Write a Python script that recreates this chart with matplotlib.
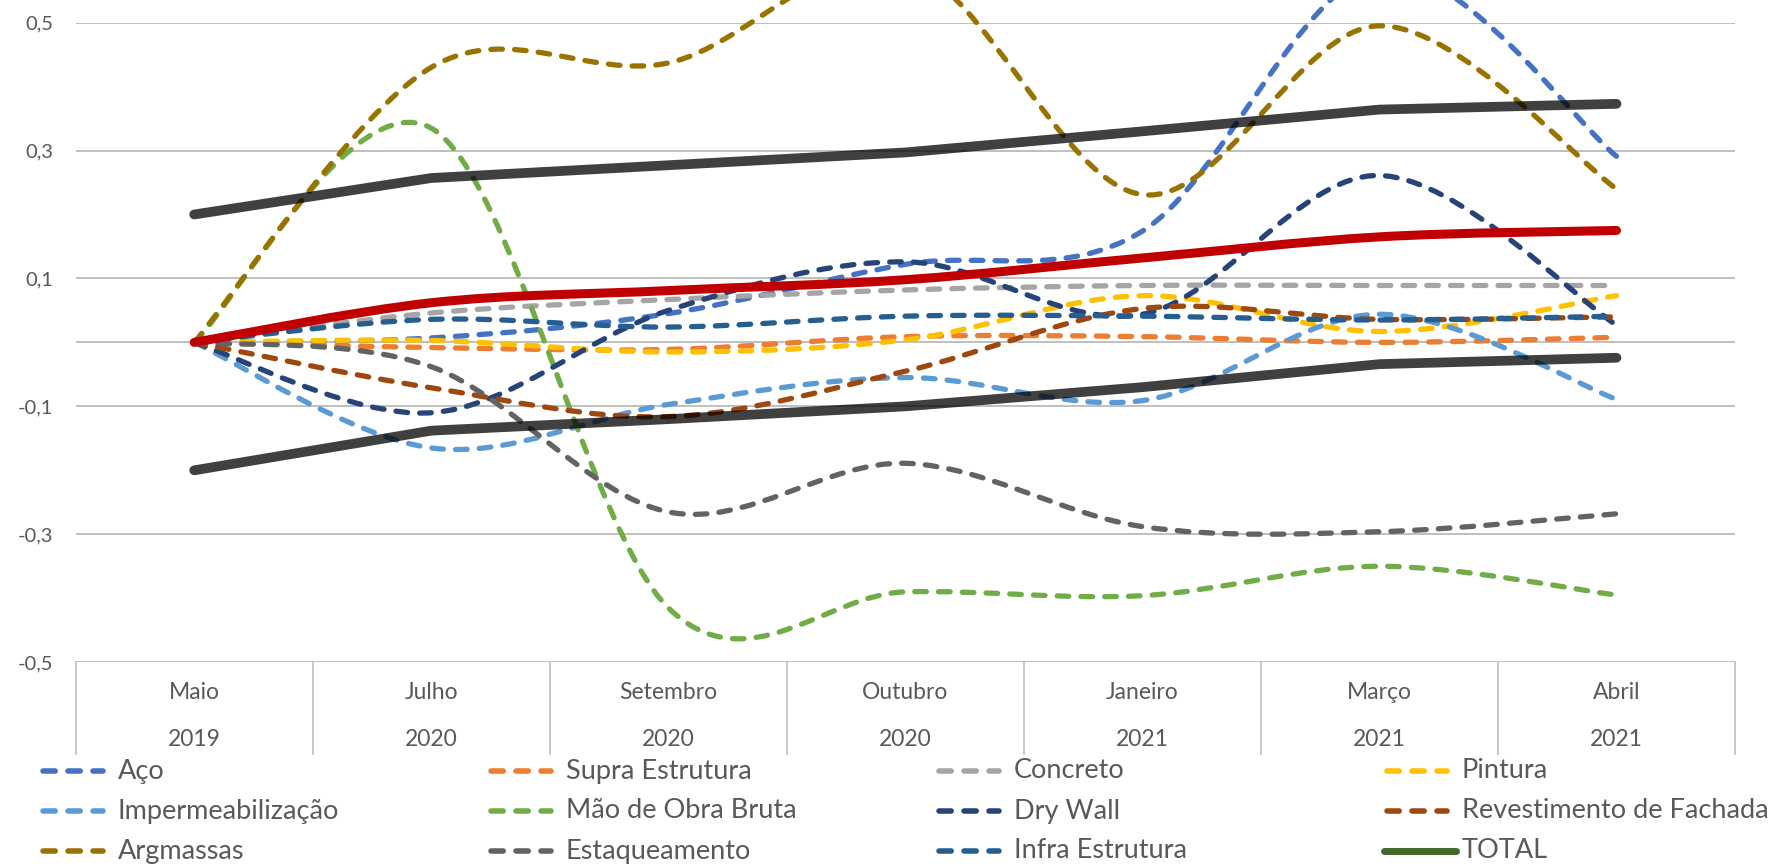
import numpy as np
import matplotlib
matplotlib.use('Agg')
import matplotlib.pyplot as plt
from matplotlib.path import Path
from matplotlib.patches import PathPatch
from matplotlib.lines import Line2D

plt.rcParams['font.family'] = ['Lato', 'DejaVu Sans']

# categories
months = ['Maio', 'Julho', 'Setembro', 'Outubro', 'Janeiro', 'Março', 'Abril']
years = ['2019', '2020', '2020', '2020', '2021', '2021', '2021']

# series
aco = [0, 0.007, 0.045, 0.122, 0.174, 0.58, 0.291]
supra = [0, -0.008, -0.011, 0.009, 0.009, 0.0, 0.008]
concreto = [0, 0.046, 0.067, 0.082, 0.089, 0.089, 0.089]
pintura = [0, 0.003, -0.015, 0.004, 0.073, 0.017, 0.073]
imperm = [0, -0.165, -0.097, -0.055, -0.091, 0.044, -0.089]
mao_obra = [0, 0.335, -0.415, -0.39, -0.396, -0.35, -0.395]
dry_wall = [0, -0.11, 0.05, 0.126, 0.044, 0.261, 0.027]
revest = [0, -0.071, -0.116, -0.045, 0.053, 0.036, 0.04]
argmassas = [0, 0.43, 0.437, 0.59, 0.231, 0.495, 0.24]
estaq = [0, -0.038, -0.265, -0.189, -0.288, -0.296, -0.268]
infra = [0, 0.036, 0.024, 0.041, 0.041, 0.035, 0.041]
total = [0, 0.062, 0.081, 0.098, 0.132, 0.165, 0.175]
upper = [0.2, 0.257, 0.277, 0.297, 0.330, 0.364, 0.373]
lower = [-0.2, -0.138, -0.12, -0.1, -0.07, -0.034, -0.024]

yticks = [-0.5, -0.3, -0.1, 0.1, 0.3, 0.5]

series = [
	('Aço', aco, '#4472C4'),
	('Supra Estrutura', supra, '#ED7D31'),
	('Concreto', concreto, '#A5A5A5'),
	('Pintura', pintura, '#FFC000'),
	('Impermeabilização', imperm, '#5B9BD5'),
	('Mão de Obra Bruta', mao_obra, '#70AD47'),
	('Dry Wall', dry_wall, '#264478'),
	('Revestimento de Fachada', revest, '#9E480E'),
	('Argmassas', argmassas, '#997300'),
	('Estaqueamento', estaq, '#636363'),
	('Infra Estrutura', infra, '#255E91'),
]

W, H = 1772, 866
DASH = (0, (2.2, 2.3))
GRID = '#BFBFBF'
TXT = '#595959'


def smooth_path(xs, ys):
	# excel-like smoothed line as cubic bezier
	pts = np.column_stack([xs, ys]).astype(float)
	ext = np.vstack([pts[0], pts, pts[-1]])
	verts = [pts[0]]
	codes = [Path.MOVETO]
	for i in range(len(pts) - 1):
		p0, p1, p2, p3 = ext[i], ext[i + 1], ext[i + 2], ext[i + 3]
		verts += [p1 + (p2 - p0) / 6, p2 - (p3 - p1) / 6, p2]
		codes += [Path.CURVE4] * 3
	return Path(verts, codes)


fig = plt.figure(figsize=(W / 100, H / 100), dpi=100)
ax = fig.add_axes([75.7 / W, 1 - 662.2 / H, (1735 - 75.7) / W, (662.2 - 22.6) / H])

x = np.arange(len(months))
ax.set_xlim(-0.5, len(months) - 0.5)
ax.set_ylim(-0.5, 0.5)
for s in ax.spines.values():
	s.set_visible(False)
ax.set_xticks([])
ax.set_yticks(yticks)
ax.set_yticklabels([('%.1f' % v).replace('.', ',') for v in yticks])
ax.tick_params(axis='y', length=0, pad=16, labelsize=14.5, labelcolor=TXT)

for v in yticks + [0]:
	ax.axhline(v, color=GRID, lw=1.4, zorder=0)

# category axis with two label levels
xt = ax.get_xaxis_transform()
for b in np.arange(-0.5, len(months)):
	ax.plot([b, b], [0, -0.1435], transform=xt, color=GRID, lw=1.2, clip_on=False)
for i in range(len(months)):
	ax.text(x[i], -0.048, months[i], transform=xt, ha='center', va='center',
			fontsize=16.5, color=TXT)
	ax.text(x[i], -0.121, years[i], transform=xt, ha='center', va='center',
			fontsize=16.5, color=TXT)

for name, vals, col in series:
	ax.add_patch(PathPatch(smooth_path(x, vals), fill=False, edgecolor=col, lw=3.8,
						   linestyle=DASH, capstyle='round', joinstyle='round',
						   clip_on=False, zorder=2))

ax.add_patch(PathPatch(smooth_path(x, total), fill=False, edgecolor='#C00000', lw=6.5,
					   capstyle='round', joinstyle='round', clip_on=False, zorder=3))
ax.plot(x, upper, color='black', alpha=0.75, lw=7, solid_capstyle='round', zorder=4)
ax.plot(x, lower, color='black', alpha=0.75, lw=7, solid_capstyle='round', zorder=4)

# legend, 4 columns filled row by row
legend_items = [(n, c, True) for n, v, c in series] + [('TOTAL', '#43682B', False)]
col_x = [40, 488, 936, 1384]
row_y = [771, 811, 851]
for k, (name, col, dashed) in enumerate(legend_items):
	px = col_x[k % 4]
	py = row_y[k // 4]
	if dashed:
		ln = Line2D([(px + 3) / W, (px + 63) / W], [1 - py / H] * 2, transform=fig.transFigure,
					color=col, lw=4, linestyle=DASH, dash_capstyle='round')
	else:
		ln = Line2D([px / W, (px + 72) / W], [1 - py / H] * 2, transform=fig.transFigure,
					color=col, lw=5, solid_capstyle='round')
	fig.add_artist(ln)
	fig.text((px + 78) / W, 1 - py / H, name, ha='left', va='center', fontsize=19.5, color=TXT)

fig.savefig('out.png', dpi=100)
